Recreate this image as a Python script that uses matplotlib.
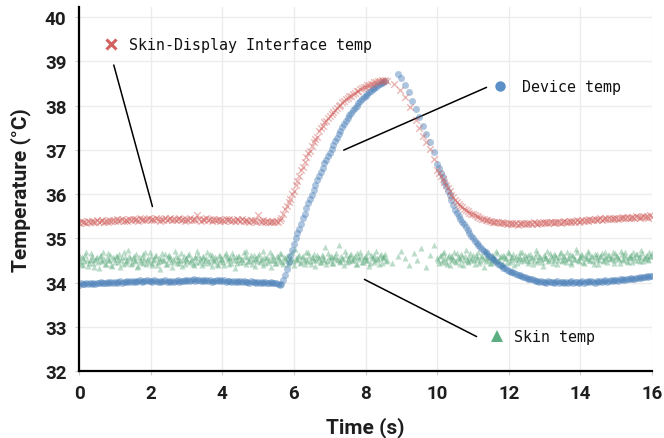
import numpy as np
import matplotlib
matplotlib.use("Agg")
import matplotlib.pyplot as plt

# ---------------- data ----------------
# Device temp (blue circles)
device_seg1_t0, device_seg1_dt = 0.0, 0.05
device_seg1 = [
    33.95, 33.98, 33.96, 33.97, 33.99, 33.96, 33.98, 33.97, 34.00, 33.97,
    33.99, 33.98, 34.01, 33.98, 34.00, 33.99, 34.02, 33.99, 34.01, 34.00,
    34.02, 34.00, 34.01, 34.03, 34.00, 34.02, 34.01, 34.04, 34.01, 34.03,
    34.02, 34.04, 34.01, 34.03, 34.05, 34.02, 34.04, 34.03, 34.06, 34.03,
    34.04, 34.02, 34.05, 34.03, 34.01, 34.04, 34.02, 34.03, 34.05, 34.02,
    34.03, 34.01, 34.04, 34.02, 34.03, 34.05, 34.02, 34.04, 34.03, 34.05,
    34.04, 34.06, 34.03, 34.05, 34.07, 34.04, 34.06, 34.05, 34.03, 34.05,
    34.04, 34.06, 34.03, 34.05, 34.02, 34.04, 34.03, 34.05, 34.04, 34.06,
    34.03, 34.05, 34.02, 34.04, 34.03, 34.01, 34.04, 34.02, 34.03, 34.01,
    34.03, 34.02, 34.04, 34.01, 34.02, 34.00, 34.03, 34.01, 34.02, 33.99,
    34.02, 34.00, 34.01, 33.99, 34.02, 34.00, 33.98, 34.01, 33.99, 34.00,
    33.98, 33.97, 33.95, 33.97,
    34.05, 34.16, 34.30, 34.46, 34.60, 34.74, 34.87, 35.00, 35.12, 35.22,
    35.33, 35.45, 35.55, 35.68, 35.80, 35.88, 35.98, 36.10, 36.20, 36.32,
    36.42, 36.50, 36.60, 36.70, 36.78, 36.87, 36.94, 37.03, 37.10, 37.20,
    37.28, 37.35, 37.43, 37.51, 37.58, 37.66, 37.72, 37.78, 37.84, 37.90,
    37.95, 38.00, 38.05, 38.11, 38.15, 38.19, 38.23, 38.27, 38.30, 38.34,
    38.37, 38.40, 38.43, 38.46, 38.49, 38.51, 38.53, 38.55,
]
device_sparse_t = [8.9, 9.0, 9.1, 9.2, 9.3, 9.4, 9.5, 9.6, 9.7, 9.8, 9.9]
device_sparse = [38.71, 38.62, 38.47, 38.30, 38.10, 37.92, 37.74, 37.55, 37.36, 37.17, 36.95]
device_seg3_t0, device_seg3_dt = 10.0, 0.05
device_seg3 = [
    36.68, 36.58, 36.48, 36.38, 36.28, 36.18, 36.08, 35.97, 35.86, 35.75,
    35.65, 35.57, 35.50, 35.44, 35.38, 35.32, 35.26, 35.19, 35.12, 35.06,
    35.00, 34.95, 34.90, 34.85, 34.80, 34.76, 34.72, 34.68, 34.64, 34.60,
    34.57, 34.53, 34.50, 34.46, 34.43, 34.40, 34.37, 34.34, 34.32, 34.29,
    34.27, 34.25, 34.23, 34.21, 34.19, 34.17, 34.16, 34.14, 34.13, 34.12,
    34.11, 34.09, 34.08, 34.07, 34.06, 34.04, 34.04, 34.02, 34.03, 34.01,
    34.02, 34.00, 34.03, 34.01, 34.02, 33.99, 34.01, 34.03, 34.00, 34.02,
    34.01, 33.99, 34.02, 34.00, 34.01, 34.03, 34.00, 34.02, 34.01, 33.99,
    34.01, 34.03, 34.00, 34.02, 34.04, 34.01, 34.03, 34.02, 34.00, 34.03,
    34.02, 34.04, 34.01, 34.03, 34.05, 34.02, 34.04, 34.06, 34.03, 34.05,
    34.06, 34.04, 34.07, 34.05, 34.08, 34.06, 34.09, 34.07, 34.10, 34.08,
    34.09, 34.11, 34.10, 34.12, 34.10, 34.13, 34.12, 34.14, 34.12, 34.15,
    34.14,
]

# Skin-Display Interface temp (red crosses)
iface_seg1_t0, iface_seg1_dt = 0.0, 0.05
iface_seg1 = [
    35.35, 35.39, 35.36, 35.38, 35.34, 35.39, 35.37, 35.40, 35.36, 35.38,
    35.41, 35.37, 35.39, 35.42, 35.38, 35.40, 35.37, 35.41, 35.39, 35.42,
    35.40, 35.43, 35.39, 35.41, 35.44, 35.40, 35.42, 35.39, 35.43, 35.41,
    35.44, 35.41, 35.43, 35.40, 35.45, 35.42, 35.44, 35.41, 35.43, 35.46,
    35.42, 35.44, 35.41, 35.45, 35.43, 35.40, 35.44, 35.42, 35.45, 35.41,
    35.43, 35.46, 35.42, 35.44, 35.41, 35.43, 35.45, 35.42, 35.44, 35.40,
    35.43, 35.41, 35.45, 35.42, 35.44, 35.41, 35.52, 35.43, 35.40, 35.44,
    35.42, 35.45, 35.41, 35.43, 35.40, 35.44, 35.42, 35.41, 35.43, 35.40,
    35.42, 35.39, 35.43, 35.41, 35.44, 35.40, 35.42, 35.39, 35.43, 35.41,
    35.40, 35.43, 35.39, 35.42, 35.40, 35.38, 35.42, 35.39, 35.41, 35.38,
    35.53, 35.40, 35.38, 35.41, 35.37, 35.40, 35.38, 35.36, 35.40, 35.37,
    35.39, 35.36,
    35.42, 35.47, 35.55, 35.66, 35.73, 35.83, 35.90, 36.01, 36.08, 36.20,
    36.30, 36.40, 36.55, 36.62, 36.73, 36.85, 36.92, 36.98, 37.08, 37.18,
    37.25, 37.30, 37.42, 37.50, 37.55, 37.62, 37.65, 37.72, 37.76, 37.82,
    37.85, 37.91, 37.94, 37.99, 38.02, 38.08, 38.10, 38.15, 38.17, 38.21,
    38.23, 38.27, 38.29, 38.33, 38.34, 38.38, 38.39, 38.42, 38.43, 38.46,
    38.47, 38.50, 38.50, 38.53, 38.53, 38.56, 38.55, 38.57, 38.56, 38.57,
    38.55,
]
iface_sparse_t = [8.8, 8.95, 9.1, 9.25, 9.4, 9.5, 9.6, 9.7, 9.8, 9.9]
iface_sparse = [38.48, 38.35, 38.20, 37.97, 37.68, 37.50, 37.31, 37.17, 37.03, 36.80]
iface_seg3_t0, iface_seg3_dt = 10.0, 0.05
iface_seg3 = [
    36.55, 36.47, 36.40, 36.34, 36.27, 36.20, 36.14, 36.06, 35.99, 35.93,
    35.87, 35.82, 35.78, 35.74, 35.70, 35.67, 35.64, 35.61, 35.58, 35.56,
    35.54, 35.52, 35.50, 35.48, 35.46, 35.44, 35.43, 35.42, 35.41, 35.40,
    35.39, 35.37, 35.38, 35.36, 35.37, 35.35, 35.36, 35.34, 35.35, 35.33,
    35.35, 35.32, 35.34, 35.33, 35.35, 35.31, 35.34, 35.32, 35.35, 35.33,
    35.34, 35.32, 35.35, 35.33, 35.36, 35.34, 35.33, 35.35, 35.34, 35.36,
    35.35, 35.37, 35.34, 35.36, 35.38, 35.35, 35.37, 35.36, 35.38, 35.35,
    35.37, 35.39, 35.36, 35.38, 35.40, 35.37, 35.39, 35.38, 35.41, 35.38,
    35.40, 35.42, 35.39, 35.41, 35.40, 35.43, 35.41, 35.42, 35.44, 35.41,
    35.43, 35.45, 35.42, 35.44, 35.46, 35.43, 35.45, 35.44, 35.47, 35.44,
    35.46, 35.44, 35.47, 35.45, 35.48, 35.46, 35.49, 35.47, 35.45, 35.48,
    35.47, 35.50, 35.48, 35.46, 35.49, 35.51, 35.48, 35.50, 35.47, 35.52,
    35.49,
]

# Skin temp (green triangles) - two interleaved sample sets
skin_seg1_t0, skin_seg1_dt = 0.0, 0.05
skin_seg1 = [
    34.62, 34.41, 34.55, 34.48, 34.68, 34.37, 34.52, 34.59, 34.44, 34.50,
    34.57, 34.33, 34.63, 34.49, 34.54, 34.42, 34.66, 34.51, 34.39, 34.58,
    34.46, 34.61, 34.53, 34.35, 34.57, 34.70, 34.45, 34.52, 34.60, 34.43,
    34.55, 34.48, 34.64, 34.38, 34.51, 34.57, 34.44, 34.69, 34.50, 34.46,
    34.59, 34.40, 34.53, 34.62, 34.47, 34.31, 34.56, 34.51, 34.65, 34.43,
    34.54, 34.58, 34.36, 34.49, 34.61, 34.52, 34.45, 34.67, 34.50, 34.41,
    34.56, 34.63, 34.47, 34.53, 34.39, 34.58, 34.72, 34.46, 34.52, 34.60,
    34.44, 34.55, 34.49, 34.64, 34.37, 34.51, 34.57, 34.43, 34.62, 34.48,
    34.53, 34.40, 34.66, 34.50, 34.56, 34.45, 34.59, 34.34, 34.52, 34.61,
    34.47, 34.54, 34.68, 34.42, 34.57, 34.49, 34.63, 34.51, 34.38, 34.55,
    34.60, 34.46, 34.53, 34.71, 34.44, 34.58, 34.50, 34.36, 34.62, 34.52,
    34.45, 34.57, 34.49, 34.64, 34.41, 34.55, 34.61, 34.47, 34.53, 34.68,
    34.39, 34.56, 34.50, 34.62, 34.46, 34.59, 34.43, 34.54, 34.70, 34.48,
    34.57, 34.51, 34.37, 34.63, 34.55, 34.46, 34.60, 34.52, 34.42, 34.66,
    34.50, 34.58, 34.45, 34.61, 34.53, 34.84, 34.47, 34.56, 34.40, 34.62,
    34.54, 34.48, 34.65, 34.51, 34.59, 34.43, 34.57, 34.69, 34.46, 34.55,
    34.61, 34.50, 34.38, 34.63, 34.56, 34.47, 34.72, 34.53, 34.59, 34.44,
    34.58, 34.65, 34.51,
]
skin_seg1b_t0, skin_seg1b_dt = 0.025, 0.05
skin_seg1b = [
    34.49, 34.58, 34.40, 34.63, 34.51, 34.45, 34.67, 34.53, 34.36, 34.56,
    34.47, 34.60, 34.52, 34.69, 34.43, 34.55, 34.50, 34.62, 34.38, 34.54,
    34.59, 34.46, 34.65, 34.51, 34.42, 34.57, 34.49, 34.73, 34.55, 34.44,
    34.61, 34.50, 34.35, 34.58, 34.47, 34.64, 34.53, 34.41, 34.56, 34.68,
    34.45, 34.52, 34.60, 34.39, 34.55, 34.48, 34.66, 34.51, 34.43, 34.59,
    34.62, 34.47, 34.54, 34.71, 34.44, 34.57, 34.50, 34.37, 34.61, 34.53,
    34.48, 34.65, 34.52, 34.42, 34.58, 34.46, 34.63, 34.55, 34.40, 34.57,
    34.51, 34.69, 34.45, 34.56, 34.62, 34.48, 34.53, 34.39, 34.60, 34.54,
    34.46, 34.63, 34.57, 34.41, 34.55, 34.67, 34.50, 34.58, 34.44, 34.61,
    34.53, 34.47, 34.59, 34.72, 34.49, 34.56, 34.43, 34.62, 34.54, 34.48,
    34.65, 34.52, 34.40, 34.58, 34.55, 34.46, 34.70, 34.51, 34.57, 34.44,
    34.60, 34.53, 34.66, 34.47, 34.58, 34.50, 34.42, 34.63, 34.56, 34.49,
    34.75, 34.54, 34.61, 34.45, 34.57, 34.52, 34.68, 34.48, 34.59, 34.41,
    34.55, 34.64, 34.50, 34.58, 34.46, 34.62, 34.53, 34.80, 34.49, 34.57,
    34.61, 34.44, 34.56, 34.67, 34.52, 34.48, 34.59, 34.54, 34.71, 34.46,
    34.58, 34.63, 34.50, 34.55, 34.42, 34.66, 34.53, 34.60, 34.47, 34.57,
    34.52, 34.69, 34.45, 34.58, 34.62, 34.50, 34.56, 34.43, 34.64, 34.55,
    34.60, 34.48,
]
skin_sparse_t = [8.75, 8.9, 9.0, 9.1, 9.2, 9.35, 9.45, 9.55, 9.7, 9.8, 9.9]
skin_sparse = [34.45, 34.60, 34.72, 34.55, 34.40, 34.66, 34.50, 34.78, 34.35, 34.62, 34.85]
skin_seg3_t0, skin_seg3_dt = 10.0, 0.05
skin_seg3 = [
    34.56, 34.44, 34.63, 34.51, 34.70, 34.47, 34.58, 34.39, 34.61, 34.53,
    34.49, 34.66, 34.55, 34.42, 34.60, 34.52, 34.73, 34.46, 34.57, 34.50,
    34.62, 34.41, 34.54, 34.68, 34.48, 34.59, 34.36, 34.56, 34.64, 34.51,
    34.45, 34.60, 34.53, 34.71, 34.49, 34.57, 34.43, 34.62, 34.55, 34.47,
    34.66, 34.52, 34.58, 34.40, 34.61, 34.54, 34.69, 34.48, 34.56, 34.63,
    34.50, 34.44, 34.65, 34.57, 34.52, 34.74, 34.46, 34.59, 34.53, 34.38,
    34.61, 34.55, 34.48, 34.67, 34.56, 34.50, 34.63, 34.43, 34.58, 34.70,
    34.52, 34.60, 34.47, 34.55, 34.64, 34.41, 34.59, 34.53, 34.68, 34.49,
    34.57, 34.62, 34.45, 34.56, 34.72, 34.51, 34.60, 34.48, 34.65, 34.54,
    34.42, 34.59, 34.66, 34.52, 34.57, 34.47, 34.63, 34.55, 34.70, 34.50,
    34.61, 34.56, 34.44, 34.64, 34.53, 34.68, 34.49, 34.58, 34.62, 34.46,
    34.57, 34.65, 34.51, 34.60, 34.73, 34.48, 34.56, 34.63, 34.52, 34.59,
    34.67,
]
skin_seg3b_t0, skin_seg3b_dt = 10.025, 0.05
skin_seg3b = [
    34.52, 34.60, 34.47, 34.66, 34.55, 34.43, 34.62, 34.51, 34.58, 34.69,
    34.46, 34.57, 34.53, 34.64, 34.40, 34.59, 34.54, 34.48, 34.67, 34.56,
    34.50, 34.63, 34.58, 34.45, 34.61, 34.53, 34.72, 34.49, 34.57, 34.44,
    34.62, 34.55, 34.48, 34.66, 34.52, 34.59, 34.41, 34.60, 34.56, 34.68,
    34.47, 34.58, 34.64, 34.53, 34.45, 34.61, 34.55, 34.70, 34.50, 34.57,
    34.63, 34.49, 34.56, 34.42, 34.60, 34.67, 34.52, 34.58, 34.46, 34.62,
    34.55, 34.71, 34.50, 34.59, 34.44, 34.64, 34.57, 34.51, 34.66, 34.48,
    34.60, 34.53, 34.68, 34.56, 34.47, 34.62, 34.54, 34.75, 34.50, 34.58,
    34.64, 34.46, 34.59, 34.55, 34.67, 34.52, 34.61, 34.43, 34.57, 34.65,
    34.51, 34.60, 34.48, 34.69, 34.56, 34.62, 34.53, 34.58, 34.45, 34.66,
    34.59, 34.54, 34.71, 34.50, 34.63, 34.57, 34.47, 34.61, 34.55, 34.68,
    34.52, 34.64, 34.58, 34.49, 34.66, 34.56, 34.61, 34.54, 34.70, 34.60,
]

x_ticks = [0, 2, 4, 6, 8, 10, 12, 14, 16]
y_ticks = [32, 33, 34, 35, 36, 37, 38, 39, 40]
labels = ["Skin-Display Interface temp", "Device temp", "Skin temp"]


def series(t0, dt, vals):
    v = np.asarray(vals, dtype=float)
    return t0 + dt * np.arange(len(v)), v


def join(*parts):
    ts = np.concatenate([np.asarray(p[0], dtype=float) for p in parts])
    vs = np.concatenate([np.asarray(p[1], dtype=float) for p in parts])
    return ts, vs


dev_t, dev_v = join(series(device_seg1_t0, device_seg1_dt, device_seg1),
                    (device_sparse_t, device_sparse),
                    series(device_seg3_t0, device_seg3_dt, device_seg3))
if_t, if_v = join(series(iface_seg1_t0, iface_seg1_dt, iface_seg1),
                  (iface_sparse_t, iface_sparse),
                  series(iface_seg3_t0, iface_seg3_dt, iface_seg3))
sk_t, sk_v = join(series(skin_seg1_t0, skin_seg1_dt, skin_seg1),
                  series(skin_seg1b_t0, skin_seg1b_dt, skin_seg1b),
                  (skin_sparse_t, skin_sparse),
                  series(skin_seg3_t0, skin_seg3_dt, skin_seg3),
                  series(skin_seg3b_t0, skin_seg3b_dt, skin_seg3b))

RED = "#d1605e"
BLUE = "#4a7fb8"
GREEN = "#59a97a"

# ---------------- figure ----------------
fig = plt.figure(figsize=(6.64, 4.39), dpi=100)
ax = fig.add_axes([0.119, 0.1526, 0.863, 0.829])

ax.scatter(sk_t, sk_v, marker="^", s=19, color=GREEN, alpha=0.4,
           linewidths=0, zorder=3)
ax.scatter(dev_t, dev_v, marker="o", s=25, color=BLUE, alpha=0.45,
           linewidths=0, zorder=4)
ax.scatter(if_t, if_v, marker="x", s=22, color=RED, alpha=0.45,
           linewidths=1.0, zorder=5)

ax.set_xlim(0, 16)
ax.set_ylim(32, 40.23)
ax.set_xticks(x_ticks)
ax.set_yticks(y_ticks)

for s in ["top", "right"]:
    ax.spines[s].set_visible(False)
for s in ["left", "bottom"]:
    ax.spines[s].set_linewidth(1.6)
    ax.spines[s].set_color("black")
    ax.spines[s].set_zorder(6)

ax.grid(True, color="#ececec", linewidth=1.0, zorder=0)
ax.set_axisbelow(True)
ax.tick_params(axis="both", length=3, width=0.8, color="#cccccc",
               labelsize=13.5, labelcolor="#1e1e1e", pad=6)
for lab in ax.get_xticklabels() + ax.get_yticklabels():
    lab.set_fontfamily("Roboto")
    lab.set_fontweight("bold")

ax.set_xlabel("Time (s)", fontsize=15, fontweight="bold", family="Roboto",
              color="#1e1e1e", labelpad=11)
ax.set_ylabel("Temperature (°C)", fontsize=15, fontweight="bold",
              family="Roboto", color="#1e1e1e", labelpad=10)

mono = "DejaVu Sans Mono"
# Interface annotation
ax.plot([0.89], [39.39], marker="x", color=RED, markersize=7, mew=2.2,
        clip_on=False, zorder=7)
ax.text(1.40, 39.39, labels[0], fontsize=10.8, family=mono, va="center",
        ha="left", color="#111111")
ax.annotate("", xy=(2.07, 35.66), xytext=(0.95, 38.98),
            arrowprops=dict(arrowstyle="-", color="black", lw=1.1))

# Device annotation
ax.plot([11.76], [38.44], marker="o", color="#5b8fc7", markersize=7.5,
        mew=0, zorder=7)
ax.text(12.37, 38.44, labels[1], fontsize=10.8, family=mono, va="center",
        ha="left", color="#111111")
ax.annotate("", xy=(7.32, 36.97), xytext=(11.45, 38.44),
            arrowprops=dict(arrowstyle="-", color="black", lw=1.1))

# Skin annotation
ax.plot([11.68], [32.79], marker="^", color="#5aae80", markersize=8,
        mew=0, zorder=7)
ax.text(12.15, 32.79, labels[2], fontsize=10.8, family=mono, va="center",
        ha="left", color="#111111")
ax.annotate("", xy=(11.17, 32.75), xytext=(7.90, 34.10),
            arrowprops=dict(arrowstyle="-", color="black", lw=1.1))

fig.savefig("out.png", dpi=100)
